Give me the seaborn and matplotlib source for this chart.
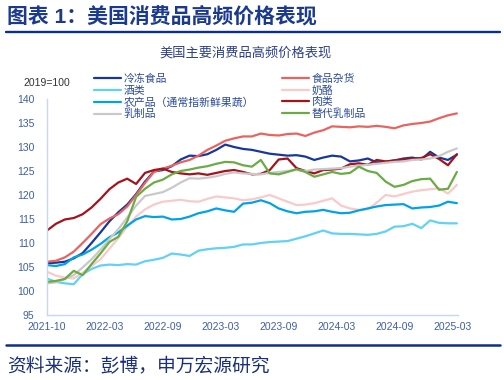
import matplotlib
matplotlib.use("Agg")
import matplotlib.pyplot as plt
import seaborn as sns
import pandas as pd
import numpy as np

sns.set_theme(style="white")
plt.rcParams['font.family'] = ['Liberation Sans', 'Noto Sans CJK SC']

# data sampled every 4 weeks, starting 2021-10 (index = week number)
frozen = [105.8, 105.9, 106.1, 106.8, 107.9, 110.0, 112.2, 114.5, 116.4, 118.0,
          120.2, 122.8, 124.9, 125.2, 126.0, 127.4, 128.2, 128.1, 128.5, 129.4,
          130.5, 130.0, 129.6, 129.4, 129.0, 128.6, 128.4, 128.2, 128.3, 128.0,
          127.3, 127.8, 128.2, 128.0, 127.0, 127.2, 127.6, 126.8, 126.9, 127.2,
          127.6, 127.8, 127.4, 129.0, 127.8, 127.3, 128.4]
grocery = [106.1, 106.3, 107.0, 108.2, 110.0, 111.9, 113.9, 115.1, 116.0, 117.6,
           120.0, 122.5, 124.8, 125.5, 126.1, 126.8, 127.3, 128.2, 129.4, 130.3,
           131.3, 131.8, 132.2, 132.2, 132.8, 132.5, 132.4, 132.7, 132.8, 132.3,
           133.0, 133.5, 134.3, 134.2, 134.1, 134.3, 134.2, 134.4, 134.2, 133.9,
           134.5, 134.8, 135.0, 135.3, 136.0, 136.6, 137.0]
alcohol = [102.6, 101.9, 101.6, 101.4, 103.5, 104.6, 105.3, 105.5, 105.4, 105.6,
           105.5, 106.2, 106.5, 106.9, 107.8, 107.6, 107.3, 108.4, 108.7, 108.9,
           109.0, 109.2, 109.7, 109.7, 110.0, 110.2, 110.3, 110.4, 110.9, 111.4,
           112.0, 112.6, 112.0, 111.9, 111.9, 111.8, 111.7, 111.9, 112.4, 113.4,
           113.5, 114.0, 113.1, 114.7, 114.2, 114.1, 114.1]
cheese = [104.0, 103.2, 102.8, 102.6, 103.8, 105.2, 106.6, 108.8, 111.0, 113.4,
          115.5, 117.0, 118.0, 118.6, 118.8, 119.0, 118.7, 118.6, 119.2, 119.7,
          119.5, 119.3, 118.9, 119.1, 119.5, 120.0, 119.3, 118.6, 117.9, 118.0,
          118.3, 118.8, 119.3, 117.8, 117.2, 116.9, 117.0, 118.4, 120.0, 119.7,
          120.2, 120.7, 121.0, 121.2, 121.4, 120.3, 122.1]
produce = [105.4, 105.2, 105.6, 107.0, 107.6, 108.6, 109.8, 111.2, 112.2, 113.6,
           114.9, 115.6, 115.4, 115.5, 114.9, 115.0, 115.5, 116.2, 116.6, 117.2,
           116.8, 116.5, 118.2, 118.4, 118.9, 118.3, 117.2, 116.6, 116.2, 116.5,
           116.6, 116.9, 116.5, 116.2, 116.3, 116.8, 117.2, 117.6, 117.9, 118.0,
           118.1, 117.2, 117.4, 117.5, 117.8, 118.6, 118.3]
meat = [112.6, 114.0, 114.9, 115.2, 116.0, 117.4, 119.2, 121.2, 122.6, 123.4,
        122.3, 124.6, 125.2, 125.5, 124.8, 124.5, 124.3, 124.5, 124.2, 124.6,
        125.0, 125.2, 124.8, 124.3, 124.4, 125.2, 127.4, 127.6, 125.6, 125.0,
        124.5, 125.2, 125.3, 125.5, 126.4, 126.6, 126.3, 127.3, 127.0, 127.2,
        127.4, 127.6, 127.7, 128.5, 127.5, 126.2, 128.5]
dairy = [101.6, 101.8, 102.5, 103.3, 104.9, 106.6, 108.6, 110.8, 112.9, 115.3,
         117.8, 119.8, 120.2, 120.6, 121.5, 122.6, 123.5, 123.4, 123.6, 123.9,
         124.4, 124.7, 124.5, 124.4, 124.3, 124.6, 124.8, 125.0, 125.2, 125.0,
         125.3, 125.4, 125.5, 125.6, 125.9, 126.1, 126.3, 126.5, 126.7, 126.9,
         127.0, 127.3, 127.4, 127.6, 128.1, 129.0, 129.7]
milk_sub = [101.9, 102.1, 102.5, 104.2, 103.3, 105.6, 107.8, 110.2, 111.3, 114.5,
            119.6, 121.3, 122.6, 123.2, 124.3, 125.0, 125.3, 125.7, 126.0, 126.5,
            126.9, 126.8, 126.2, 125.9, 127.3, 124.5, 124.3, 124.8, 125.4, 124.8,
            123.8, 124.3, 124.8, 124.4, 124.6, 125.9, 125.0, 124.6, 122.8, 121.7,
            122.1, 122.9, 123.3, 123.4, 121.1, 121.3, 124.8]

weeks = np.arange(len(frozen)) * 4
tick_labels = ['2021-10', '2022-03', '2022-09', '2023-03', '2023-09',
               '2024-03', '2024-09', '2025-03']

series = [
    ('冷冻食品', frozen, '#17389a'),
    ('食品杂货', grocery, '#e9635f'),
    ('酒类', alcohol, '#5fd2f6'),
    ('奶酪', cheese, '#f9caca'),
    ('农产品（通常指新鲜果蔬）', produce, '#00a3e8'),
    ('肉类', meat, '#a5121b'),
    ('乳制品', dairy, '#c9c9c9'),
    ('替代乳制品', milk_sub, '#6bab45'),
]

fig = plt.figure(figsize=(5.04, 3.8), dpi=100)
ax = fig.add_axes([47/504, 1-315/380, 411/504, 216/380])

lines = {}
for name, vals, col in series:
    sns.lineplot(x=weeks, y=vals, ax=ax, color=col, linewidth=1.6)
    lines[name] = ax.lines[-1]

ax.set_xlim(0, 184.5)
ax.set_ylim(95, 140)
ax.set_yticks(np.arange(95, 141, 5))
ax.set_xticks(np.arange(len(tick_labels)) * 26)
ax.set_xticklabels(tick_labels)

axis_col = '#c5d8ef'
tick_col = '#3f5ea8'
for s in ['top', 'right']:
    ax.spines[s].set_visible(False)
for s in ['left', 'bottom']:
    ax.spines[s].set_color(axis_col)
    ax.spines[s].set_linewidth(1.0)
ax.tick_params(axis='both', which='both', direction='out', length=3, width=0.8,
               color=axis_col, labelcolor=tick_col, labelsize=7.5, pad=2)
ax.tick_params(axis='y', pad=6)
ax.grid(False)
ax.set_xlabel('')
ax.set_ylabel('')

order = ['冷冻食品', '酒类', '农产品（通常指新鲜果蔬）', '乳制品',
         '食品杂货', '奶酪', '肉类', '替代乳制品']
fig.legend([lines[n] for n in order], order, ncol=2, frameon=False,
           loc='upper left', bbox_to_anchor=(86/504, 1-66/380),
           fontsize=7.8, handlelength=2.5, handletextpad=0.25,
           columnspacing=2.6, labelspacing=0.12, borderpad=0.2,
           labelcolor='#2b4a9a')

fig.text(23/504, 1-83/380, '2019=100', fontsize=7.5, color='#333333',
         va='center', ha='left')

navy = '#0d2f8c'
fig.text(7/504, 1-16/380, '图表 1：美国消费品高频价格表现', fontsize=15,
         fontweight='bold', color='#1b3a8e', va='center', ha='left')
fig.add_artist(plt.Line2D([6/504, 500/504], [1-32/380, 1-32/380],
                          color=navy, linewidth=1.7))
fig.text(246/504, 1-53/380, '美国主要消费品高频价格表现', fontsize=9.5,
         color='#2a3f8a', va='center', ha='center')
fig.add_artist(plt.Line2D([6/504, 500/504], [1-345/380, 1-345/380],
                          color=navy, linewidth=1.8))
fig.text(7/504, 1-367/380, '资料来源：彭博，申万宏源研究', fontsize=13.5,
         color='#1a2f7a', va='center', ha='left')

plt.savefig('out.png', dpi=100)
